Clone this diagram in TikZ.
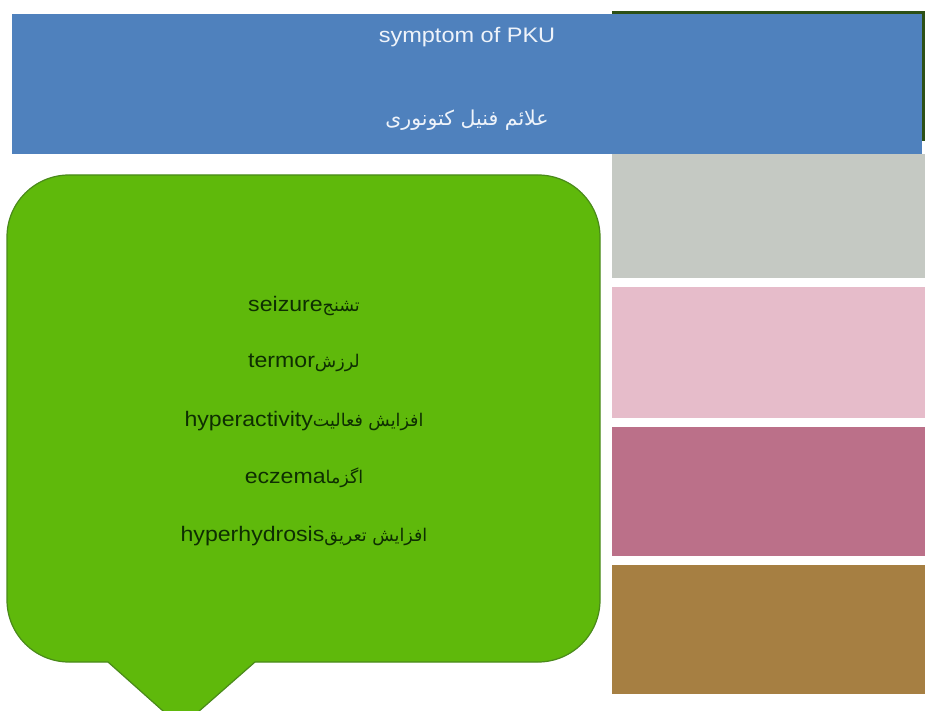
\documentclass[tikz,border=0pt]{standalone}
\usepackage{fontspec}
\setmainfont{Liberation Sans}
\newfontfamily\arabicfont[Script=Arabic]{DejaVu Sans}
\newfontfamily\enfont{Liberation Sans}[FakeStretch=1.1]
\newfontfamily\titlefont{Liberation Sans}[FakeStretch=1.12]
\TeXXeTstate=1
\definecolor{backgreen}{HTML}{2D5016}
\definecolor{titleblue}{HTML}{4F81BD}
\definecolor{barGray}{HTML}{C5C9C3}
\definecolor{barPink}{HTML}{E6BCCA}
\definecolor{barMauve}{HTML}{BB7089}
\definecolor{barBrown}{HTML}{A67F42}
\definecolor{calloutGreen}{HTML}{5FB90B}
\definecolor{calloutEdge}{HTML}{4A8A1A}
\definecolor{textDark}{HTML}{0E2E02}
\definecolor{titleText}{HTML}{EEF3FA}
\newcommand{\itemfa}[1]{{\arabicfont\fontsize{17.5}{20}\selectfont\beginR #1\endR}}
\begin{document}
\begin{tikzpicture}[x=1pt,y=1pt,
  itemtext/.style={text=textDark,inner sep=0pt,anchor=center,font=\enfont\fontsize{21}{24}\selectfont},
  titletext/.style={text=titleText,inner sep=0pt,anchor=center}]
\clip (0,0) rectangle (925,710);
\fill[white] (0,0) rectangle (925,710);
% back dark green rectangle
\fill[backgreen] (612,569) rectangle (925,699);
% title banner
\fill[titleblue] (12,556) rectangle (922,696);
\node[titletext] (title) at (467,673) {\titlefont\fontsize{21}{24}\selectfont symptom of PKU};
\node[titletext] (titlefa) at (467,590) {\arabicfont\fontsize{20.5}{24}\selectfont\beginR علائم فنیل کتونوری\endR};
% right colour bars
\fill[barGray] (612,432) rectangle (925,556);
\fill[barPink] (612,292) rectangle (925,423);
\fill[barMauve] (612,154) rectangle (925,283);
\fill[barBrown] (612,16) rectangle (925,145);
% callout
\draw[fill=calloutGreen,draw=calloutEdge,line width=1.2pt,line join=miter]
  (108,48) -- (69,48) arc[start angle=270,end angle=180,radius=62]
  -- (7,473) arc[start angle=180,end angle=90,radius=62]
  -- (538,535) arc[start angle=90,end angle=0,radius=62]
  -- (600,110) arc[start angle=0,end angle=-90,radius=62]
  -- (255,48) -- (181,-17) -- cycle;
\node[itemtext] (l1) at (304,404) {seizure\itemfa{تشنج}};
\node[itemtext] (l2) at (304,347) {termor\itemfa{لرزش}};
\node[itemtext] (l3) at (304,289) {hyperactivity\itemfa{افزایش فعالیت}};
\node[itemtext] (l4) at (304,232) {eczema\itemfa{اگزما}};
\node[itemtext] (l5) at (304,174) {hyperhydrosis\itemfa{افزایش تعریق}};
\end{tikzpicture}
\end{document}
